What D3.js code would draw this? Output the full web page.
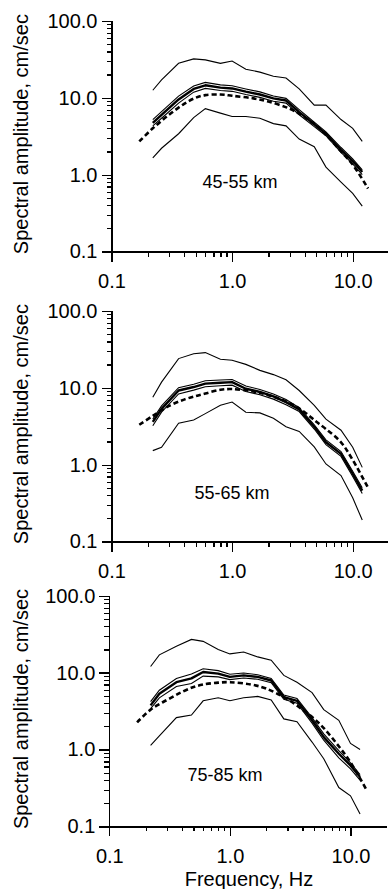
<!DOCTYPE html>
<html>
<head>
<meta charset="utf-8">
<script src="https://cdn.jsdelivr.net/npm/d3@7"></script>
<style>
  body { margin: 0; background: #fff; }
  svg { display: block; font-family: "Liberation Sans", Arial, sans-serif; }
  .axis path, .axis line { stroke: #000; stroke-width: 1.2; fill: none; shape-rendering: crispEdges; }
  .axis text { font-size: 20px; fill: #000; }
</style>
</head>
<body>
<script>
//observed frequencies (Hz) and model frequencies
var freqObs = [0.22, 0.26, 0.36, 0.48, 0.6, 0.8, 1.0, 1.3, 1.7, 2.2, 2.8, 3.6, 4.8, 6.0, 8.0, 10.0, 12.0];
var freqModel = [0.17, 0.22, 0.3, 0.4, 0.5, 0.6, 0.8, 1.0, 1.5, 2.0, 3.0, 4.0, 5.0, 6.0, 8.0, 10.0, 13.4];

//45-55 km
var max45 = [12.5, 17, 28, 32, 31, 28, 30, 23.5, 21.5, 19, 18, 13, 8, 8, 5.2, 4.0, 2.7];
var mean45Hi = [5.2, 6.6, 10.5, 14.2, 15.8, 14.7, 14.3, 13.0, 11.9, 10.5, 9.8, 7.0, 4.8, 3.6, 2.25, 1.6, 1.15];
var mean45 = [4.7, 6.0, 9.5, 13.0, 14.5, 13.5, 13.2, 12.0, 11.0, 9.8, 9.2, 6.5, 4.5, 3.4, 2.1, 1.5, 1.08];
var mean45Lo = [4.3, 5.4, 8.5, 11.8, 13.2, 12.4, 12.1, 11.0, 10.1, 9.0, 8.5, 6.0, 4.2, 3.2, 1.95, 1.38, 1.0];
var min45 = [1.65, 2.2, 3.4, 5.5, 7.2, 6.3, 5.7, 5.7, 5.4, 4.6, 4.3, 2.9, 2.3, 1.25, 0.8, 0.57, 0.39];
var model45 = [2.7, 4.0, 6.0, 8.3, 10.0, 10.8, 11.0, 10.6, 9.8, 8.9, 7.2, 5.6, 4.3, 3.3, 2.0, 1.35, 0.66];

//55-65 km
var max55 = [7.5, 11.8, 23.9, 27.7, 28.6, 23.4, 22.7, 20.1, 16.8, 14.8, 12.7, 9.2, 5.9, 3.9, 2.8, 1.68, 0.92];
var mean55Hi = [3.9, 5.8, 10.0, 11.1, 12.3, 12.6, 12.8, 10.5, 9.5, 8.3, 7.0, 5.5, 3.3, 2.1, 1.48, 0.82, 0.5];
var mean55 = [3.6, 5.3, 9.2, 10.2, 11.3, 11.6, 11.8, 9.7, 8.8, 7.7, 6.5, 5.2, 3.1, 1.95, 1.38, 0.76, 0.46];
var mean55Lo = [3.2, 4.8, 8.3, 9.3, 10.3, 10.6, 10.8, 8.9, 8.1, 7.1, 6.0, 4.9, 2.9, 1.82, 1.28, 0.7, 0.42];
var min55 = [1.52, 1.68, 3.45, 3.8, 4.6, 5.9, 6.5, 4.8, 4.7, 4.0, 3.1, 2.7, 1.7, 1.02, 0.72, 0.37, 0.19];
var model55 = [3.3, 4.3, 5.8, 7.0, 7.8, 8.4, 9.4, 9.6, 8.9, 8.0, 6.3, 4.8, 3.6, 2.9, 1.95, 1.15, 0.5];

//75-85 km
var max75 = [12, 17, 22, 27, 25.5, 20, 17.5, 18.5, 16, 14.5, 9.2, 7.5, 5.5, 3.3, 2.4, 1.2, 1.0];
var mean75Hi = [4.2, 5.9, 8.4, 9.6, 11.2, 10.6, 9.5, 9.9, 9.4, 8.4, 5.1, 4.6, 2.6, 1.6, 0.97, 0.67, 0.47];
var mean75 = [3.75, 5.3, 7.5, 8.4, 10.2, 9.7, 8.8, 9.2, 8.8, 7.9, 4.8, 4.3, 2.4, 1.45, 0.88, 0.62, 0.44];
var mean75Lo = [3.4, 4.7, 6.6, 7.2, 9.0, 8.8, 8.1, 8.5, 8.2, 7.4, 4.5, 4.0, 2.2, 1.32, 0.78, 0.56, 0.4];
var min75 = [1.13, 1.5, 2.6, 2.8, 4.3, 4.7, 4.3, 4.7, 4.9, 4.4, 2.5, 2.3, 1.25, 0.76, 0.32, 0.25, 0.145];
var model75 = [2.25, 3.3, 4.4, 5.6, 6.5, 7.0, 7.4, 7.5, 7.0, 6.2, 4.5, 3.3, 2.5, 1.9, 1.1, 0.68, 0.31];

//distance labels and tick labels
var distLabels = ["45-55 km", "55-65 km", "75-85 km"];
var yMajor = [0.1, 1, 10, 100];
var xMajor = [0.1, 1, 10];

//begin script when window loads
window.onload = drawChart();

function drawChart(){
    var width = 388,
        height = 889;

    var svg = d3.select("body")
        .append("svg")
        .attr("width", width)
        .attr("height", height);

    svg.append("rect")
        .attr("width", width)
        .attr("height", height)
        .attr("fill", "#fff");

    //panel frames
    var panels = [
        {top: 20.8, left: 111.5, label: distLabels[0], lx: 240, ly: 182,
         max: max45, hi: mean45Hi, mean: mean45, lo: mean45Lo, min: min45, model: model45},
        {top: 310.8, left: 111.5, label: distLabels[1], lx: 232, ly: 493,
         max: max55, hi: mean55Hi, mean: mean55, lo: mean55Lo, min: min55, model: model55},
        {top: 595.7, left: 109.3, label: distLabels[2], lx: 225, ly: 775,
         max: max75, hi: mean75Hi, mean: mean75, lo: mean75Lo, min: min75, model: model75}
    ];

    var plotH = 230.7,
        decadeW = 120.6;

    //minor tick values
    var yMinor = [], xMinor = [];
    [0.1, 1, 10].forEach(function(d){
        for (var k = 2; k <= 9; k++){ yMinor.push(d * k); }
    });
    [0.1, 1].forEach(function(d){
        for (var k = 2; k <= 9; k++){ xMinor.push(d * k); }
    });

    var fmt = d3.format(".1f");

    panels.forEach(function(p, i){
        var x = d3.scaleLog()
            .domain([0.1, 20])
            .range([p.left, p.left + decadeW * Math.log10(200)]);
        var y = d3.scaleLog()
            .domain([0.1, 100])
            .range([p.top + plotH, p.top]);

        var g = svg.append("g");

        //y axis: minor then major ticks
        g.append("g")
            .attr("class", "axis")
            .attr("transform", "translate(" + p.left + ",0)")
            .call(d3.axisLeft(y).tickValues(yMinor).tickSize(5).tickSizeOuter(0).tickFormat(""));
        g.append("g")
            .attr("class", "axis")
            .attr("transform", "translate(" + p.left + ",0)")
            .call(d3.axisLeft(y).tickValues(yMajor).tickSize(10).tickSizeOuter(0).tickPadding(4).tickFormat(fmt));

        //x axis
        var yb = p.top + plotH;
        g.append("g")
            .attr("class", "axis")
            .attr("transform", "translate(0," + yb + ")")
            .call(d3.axisBottom(x).tickValues(xMinor).tickSize(5).tickSizeOuter(0).tickFormat(""));
        g.append("g")
            .attr("class", "axis")
            .attr("transform", "translate(0," + yb + ")")
            .call(d3.axisBottom(x).tickValues(xMajor).tickSize(10).tickSizeOuter(0).tickPadding(12).tickFormat(fmt));

        //y axis title
        g.append("text")
            .attr("transform", "translate(28," + (p.top + plotH / 2 - 2) + ") rotate(-90)")
            .attr("text-anchor", "middle")
            .style("font-size", "20px")
            .text("Spectral amplitude, cm/sec");

        var lineObs = d3.line()
            .x(function(d, j){ return x(freqObs[j]); })
            .y(function(d){ return y(d); });

        var lineModel = d3.line()
            .curve(d3.curveCatmullRom)
            .x(function(d, j){ return x(freqModel[j]); })
            .y(function(d){ return y(d); });

        //outer bounds
        [p.max, p.min, p.hi, p.lo].forEach(function(s){
            g.append("path")
                .datum(s)
                .attr("fill", "none")
                .attr("stroke", "#000")
                .attr("stroke-width", 1.1)
                .attr("d", lineObs);
        });

        //mean
        g.append("path")
            .datum(p.mean)
            .attr("fill", "none")
            .attr("stroke", "#000")
            .attr("stroke-width", 2.4)
            .attr("stroke-linejoin", "round")
            .attr("d", lineObs);

        //model
        g.append("path")
            .datum(p.model)
            .attr("fill", "none")
            .attr("stroke", "#000")
            .attr("stroke-width", 2.6)
            .attr("stroke-dasharray", "5,3")
            .attr("d", lineModel);

        //distance label
        g.append("text")
            .attr("x", p.lx)
            .attr("y", p.ly + 6)
            .attr("text-anchor", "middle")
            .style("font-size", "18px")
            .text(p.label);
    });

    //x axis title
    svg.append("text")
        .attr("x", 249)
        .attr("y", 886)
        .attr("text-anchor", "middle")
        .style("font-size", "20px")
        .text("Frequency, Hz");
};
</script>
</body>
</html>
